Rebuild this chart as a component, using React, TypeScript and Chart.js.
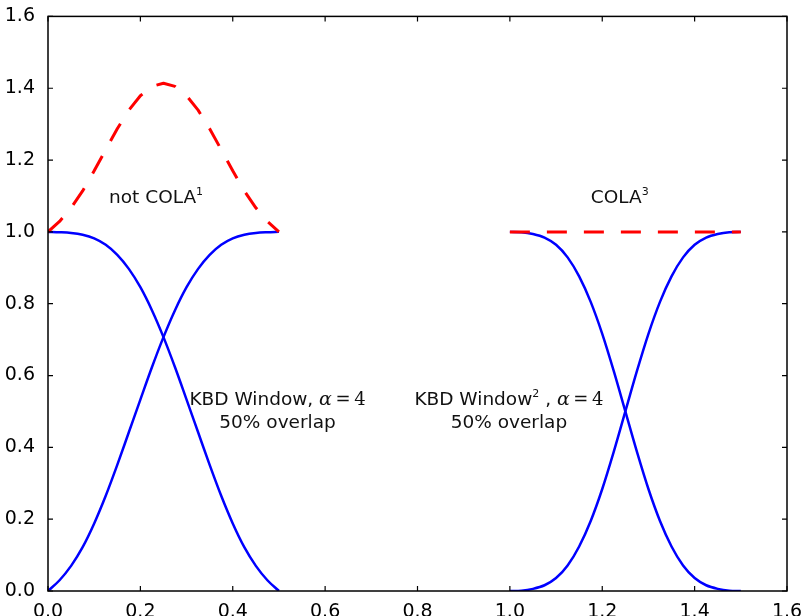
import React, { useEffect, useRef } from "react";
import { Chart, registerables } from "chart.js";

Chart.register(...registerables);

// ---- data ----
const xTickValues = [0, 0.2, 0.4, 0.6, 0.8, 1.0, 1.2, 1.4, 1.6];
const xTickLabels = ["0.0", "0.2", "0.4", "0.6", "0.8", "1.0", "1.2", "1.4", "1.6"];
const yTickValues = [0, 0.2, 0.4, 0.6, 0.8, 1.0, 1.2, 1.4, 1.6];
const yTickLabels = ["0.0", "0.2", "0.4", "0.6", "0.8", "1.0", "1.2", "1.4", "1.6"];

// left group: KBD window, alpha = 4, 50% overlap
const xLeft = [0, 0.025, 0.05, 0.075, 0.1, 0.125, 0.15, 0.175, 0.2, 0.225, 0.25,
  0.275, 0.3, 0.325, 0.35, 0.375, 0.4, 0.425, 0.45, 0.475, 0.5];
const kbdFalling = [1.0, 0.999, 0.997, 0.992, 0.982, 0.964, 0.936, 0.897, 0.846, 0.782, 0.707,
  0.623, 0.533, 0.442, 0.351, 0.265, 0.188, 0.122, 0.07, 0.03, 0.0];
const kbdRising = [0.0, 0.03, 0.07, 0.122, 0.188, 0.265, 0.351, 0.442, 0.533, 0.623, 0.707,
  0.782, 0.846, 0.897, 0.936, 0.964, 0.982, 0.992, 0.997, 0.999, 1.0];
const kbdSum = [1.0, 1.029, 1.067, 1.114, 1.17, 1.229, 1.287, 1.339, 1.379, 1.405, 1.414,
  1.405, 1.379, 1.339, 1.287, 1.229, 1.17, 1.114, 1.067, 1.029, 1.0];

// right group: squared KBD window, alpha = 4, 50% overlap
const xRight = [1.0, 1.025, 1.05, 1.075, 1.1, 1.125, 1.15, 1.175, 1.2, 1.225, 1.25,
  1.275, 1.3, 1.325, 1.35, 1.375, 1.4, 1.425, 1.45, 1.475, 1.5];
const kbdSqFalling = [1.0, 0.999, 0.994, 0.984, 0.964, 0.929, 0.876, 0.805, 0.716, 0.612, 0.5,
  0.388, 0.284, 0.195, 0.124, 0.071, 0.036, 0.016, 0.006, 0.001, 0.0];
const kbdSqRising = [0.0, 0.001, 0.006, 0.016, 0.036, 0.071, 0.124, 0.195, 0.284, 0.388, 0.5,
  0.612, 0.716, 0.805, 0.876, 0.929, 0.964, 0.984, 0.994, 0.999, 1.0];
const kbdSqSum = [1.0, 1.0, 1.0, 1.0, 1.0, 1.0, 1.0, 1.0, 1.0, 1.0, 1.0,
  1.0, 1.0, 1.0, 1.0, 1.0, 1.0, 1.0, 1.0, 1.0, 1.0];

// annotation anchors in data units
const noteNotCola = { x: 0.234, y: 1.094 };
const noteCola = { x: 1.238, y: 1.094 };
const noteKbd = { x: 0.497, y1: 0.531, y2: 0.467 };
const noteKbdSq = { x: 0.998, y1: 0.531, y2: 0.467 };

const BLUE = "#0000ff";
const RED = "#ff0000";
const SANS = "'DejaVu Sans', sans-serif";
const SERIF = "'DejaVu Serif', serif";

const pts = (xs: number[], ys: number[]) => xs.map((x, i) => ({ x, y: ys[i] }));

type Run = { t: string; font: string; dy?: number };

function drawRuns(ctx: CanvasRenderingContext2D, runs: Run[], cx: number, cy: number) {
  let total = 0;
  const widths = runs.map((r) => {
    ctx.font = r.font;
    const w = ctx.measureText(r.t).width;
    total += w;
    return w;
  });
  let x = cx - total / 2;
  ctx.textBaseline = "middle";
  ctx.textAlign = "left";
  runs.forEach((r, i) => {
    ctx.font = r.font;
    ctx.fillText(r.t, x, cy + (r.dy || 0));
    x += widths[i];
  });
}

const decor = {
  id: "decor",
  afterDatasetsDraw(chart: any) {
    const { ctx, chartArea: a, scales } = chart;
    const xs = scales.x;
    const ys = scales.y;
    ctx.save();
    ctx.setLineDash([]);
    ctx.strokeStyle = "#000";
    ctx.lineWidth = 1.5;
    ctx.strokeRect(a.left, a.top, a.right - a.left, a.bottom - a.top);
    ctx.lineWidth = 1.2;
    const L = 5;
    ctx.beginPath();
    xTickValues.forEach((v) => {
      const px = xs.getPixelForValue(v);
      ctx.moveTo(px, a.bottom);
      ctx.lineTo(px, a.bottom - L);
      ctx.moveTo(px, a.top);
      ctx.lineTo(px, a.top + L);
    });
    yTickValues.forEach((v) => {
      const py = ys.getPixelForValue(v);
      ctx.moveTo(a.left, py);
      ctx.lineTo(a.left + L, py);
      ctx.moveTo(a.right, py);
      ctx.lineTo(a.right - L, py);
    });
    ctx.stroke();

    // annotations
    ctx.fillStyle = "#111";
    const f = `18.5px ${SANS}`;
    const sup = `11px ${SANS}`;
    const mathA = `italic 19px ${SERIF}`;
    const mathN = `18px ${SERIF}`;
    drawRuns(ctx, [{ t: "not COLA", font: f }, { t: "1", font: sup, dy: -6 }],
      xs.getPixelForValue(noteNotCola.x), ys.getPixelForValue(noteNotCola.y));
    drawRuns(ctx, [{ t: "COLA", font: f }, { t: "3", font: sup, dy: -6 }],
      xs.getPixelForValue(noteCola.x), ys.getPixelForValue(noteCola.y));
    drawRuns(ctx, [{ t: "KBD Window, ", font: f }, { t: "α", font: mathA }, { t: "\u2009=\u20094", font: mathN }],
      xs.getPixelForValue(noteKbd.x), ys.getPixelForValue(noteKbd.y1));
    drawRuns(ctx, [{ t: "50% overlap", font: f }],
      xs.getPixelForValue(noteKbd.x), ys.getPixelForValue(noteKbd.y2));
    drawRuns(ctx, [{ t: "KBD Window", font: f }, { t: "2", font: sup, dy: -6 }, { t: " , ", font: f },
      { t: "α", font: mathA }, { t: "\u2009=\u20094", font: mathN }],
      xs.getPixelForValue(noteKbdSq.x), ys.getPixelForValue(noteKbdSq.y1));
    drawRuns(ctx, [{ t: "50% overlap", font: f }],
      xs.getPixelForValue(noteKbdSq.x), ys.getPixelForValue(noteKbdSq.y2));
    ctx.restore();
  },
};

export default function App() {
  const ref = useRef<HTMLCanvasElement | null>(null);
  useEffect(() => {
    if (!ref.current) return;
    const blue = (data: any) => ({
      data,
      borderColor: BLUE,
      borderWidth: 2.5,
      pointRadius: 0,
      fill: false,
      cubicInterpolationMode: "monotone" as const,
      order: 2,
    });
    const red = (data: any) => ({
      data,
      borderColor: RED,
      borderWidth: 3,
      borderDash: [20, 17],
      borderCapStyle: "butt" as const,
      borderJoinStyle: "round" as const,
      pointRadius: 0,
      fill: false,
      tension: 0,
      order: 1,
    });
    const tickFont = { family: SANS, size: 19 };
    const chart = new Chart(ref.current, {
      type: "line",
      data: {
        datasets: [
          red(pts(xLeft, kbdSum)),
          red(pts(xRight, kbdSqSum)),
          blue(pts(xLeft, kbdFalling)),
          blue(pts(xLeft, kbdRising)),
          blue(pts(xRight, kbdSqFalling)),
          blue(pts(xRight, kbdSqRising)),
        ],
      },
      options: {
        animation: false,
        responsive: false,
        maintainAspectRatio: false,
        layout: { padding: { top: 15.5, right: 18, left: 0, bottom: 0 } },
        plugins: { legend: { display: false }, tooltip: { enabled: false } },
        scales: {
          x: {
            type: "linear",
            min: 0,
            max: 1.6,
            afterBuildTicks: (s: any) => {
              s.ticks = xTickValues.map((v) => ({ value: v }));
            },
            afterFit: (s: any) => {
              s.height = 25;
            },
            ticks: {
              callback: (_v: any, i: number) => xTickLabels[i],
              font: tickFont,
              color: "#000",
              padding: 2,
              maxRotation: 0,
              autoSkip: false,
            },
            grid: { display: false },
            border: { display: false },
          },
          y: {
            type: "linear",
            min: 0,
            max: 1.6,
            afterBuildTicks: (s: any) => {
              s.ticks = yTickValues.map((v) => ({ value: v }));
            },
            afterFit: (s: any) => {
              s.width = 48;
            },
            ticks: {
              callback: (_v: any, i: number) => yTickLabels[i],
              font: tickFont,
              color: "#000",
              padding: 5,
              autoSkip: false,
            },
            grid: { display: false },
            border: { display: false },
          },
        },
      } as any,
      plugins: [decor],
    });
    return () => chart.destroy();
  }, []);
  return (
    <div style={{ position: "absolute", left: 0, top: 0, width: 805, height: 616, background: "#fff" }}>
      <canvas ref={ref} width={805} height={616} style={{ display: "block" }} />
    </div>
  );
}
